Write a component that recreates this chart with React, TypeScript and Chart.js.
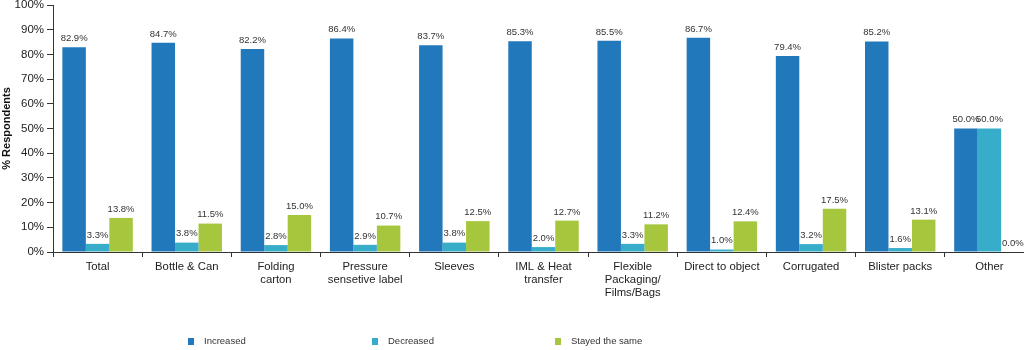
import React, { useEffect, useRef } from "react";
import { Chart, registerables } from "chart.js";

Chart.register(...registerables);

const categories: (string | string[])[] = [
  "Total",
  "Bottle & Can",
  ["Folding", "carton"],
  ["Pressure", "sensetive label"],
  "Sleeves",
  ["IML & Heat", "transfer"],
  ["Flexible", "Packaging/", "Films/Bags"],
  "Direct to object",
  "Corrugated",
  "Blister packs",
  "Other",
];

const increased = [82.9, 84.7, 82.2, 86.4, 83.7, 85.3, 85.5, 86.7, 79.4, 85.2, 50.0];
const decreased = [3.3, 3.8, 2.8, 2.9, 3.8, 2.0, 3.3, 1.0, 3.2, 1.6, 50.0];
const stayedSame = [13.8, 11.5, 15.0, 10.7, 12.5, 12.7, 11.2, 12.4, 17.5, 13.1, 0.0];

const seriesNames = ["Increased", "Decreased", "Stayed the same"];
const seriesColors = ["#2178BA", "#37ADCA", "#A6C73D"];
const yTicks = [0, 10, 20, 30, 40, 50, 60, 70, 80, 90, 100];

const FONT = "'Liberation Sans', Arial, Helvetica, sans-serif";

const dataLabelPlugin = {
  id: "dataLabels",
  afterDatasetsDraw(chart: any) {
    const ctx = chart.ctx;
    ctx.save();
    ctx.font = `9.5px ${FONT}`;
    ctx.fillStyle = "#333333";
    ctx.textAlign = "center";
    ctx.textBaseline = "bottom";
    chart.data.datasets.forEach((ds: any, di: number) => {
      const meta = chart.getDatasetMeta(di);
      meta.data.forEach((bar: any, i: number) => {
        const v = ds.data[i] as number;
        ctx.fillText(v.toFixed(1) + "%", bar.x, bar.y - 4);
      });
    });
    ctx.restore();
  },
};

const legendPlugin = {
  id: "customLegend",
  afterDraw(chart: any) {
    const ctx = chart.ctx;
    const starts = [188, 372, 555];
    const y = 341;
    ctx.save();
    ctx.font = `9.5px ${FONT}`;
    ctx.textBaseline = "middle";
    ctx.textAlign = "left";
    chart.data.datasets.forEach((ds: any, i: number) => {
      const x = starts[i];
      ctx.fillStyle = ds.backgroundColor;
      ctx.fillRect(x, y - 3, 6, 7);
      ctx.fillStyle = "#333333";
      ctx.fillText(ds.label, x + 16, y + 0.5);
    });
    ctx.restore();
  },
};

export default function App() {
  const canvasRef = useRef<HTMLCanvasElement | null>(null);

  useEffect(() => {
    if (!canvasRef.current) return;
    const datasets = [increased, decreased, stayedSame].map((d, i) => ({
      label: seriesNames[i],
      data: d,
      backgroundColor: seriesColors[i],
      borderWidth: 0,
      categoryPercentage: 0.79,
      barPercentage: 1.0,
    }));
    const chart = new Chart(canvasRef.current, {
      type: "bar",
      data: { labels: categories, datasets },
      options: {
        animation: false,
        responsive: false,
        maintainAspectRatio: false,
        layout: { padding: { top: 5, right: 6, left: 0, bottom: 0 } },
        plugins: {
          legend: { display: false },
          tooltip: { enabled: false },
        },
        scales: {
          x: {
            grid: {
              offset: true,
              drawOnChartArea: false,
              drawTicks: true,
              tickLength: 5,
              color: "#333333",
            },
            border: { display: true, color: "#333333", width: 1 },
            ticks: {
              color: "#222222",
              font: { family: FONT, size: 11.3, lineHeight: 1.15 },
              maxRotation: 0,
              autoSkip: false,
              padding: 3,
            },
            afterFit: (scale: any) => {
              scale.height = 98;
              scale.paddingLeft = 0;
              scale.paddingRight = 0;
            },
          },
          y: {
            min: 0,
            max: 100,
            afterBuildTicks: (scale: any) => {
              scale.ticks = yTicks.map((v) => ({ value: v }));
            },
            grid: {
              drawOnChartArea: false,
              drawTicks: true,
              tickLength: 6,
              color: "#333333",
            },
            border: { display: true, color: "#333333", width: 1 },
            ticks: {
              color: "#222222",
              font: { family: FONT, size: 11.5 },
              padding: 3,
              callback: (v: any) => v + "%",
            },
            title: {
              display: true,
              text: "% Respondents",
              color: "#111111",
              font: { family: FONT, size: 11, weight: "bold" },
              padding: { top: 0, bottom: 2 },
            },
            afterFit: (scale: any) => {
              scale.width = 53;
              scale.paddingTop = 0;
              scale.paddingBottom = 0;
            },
          },
        },
      },
      plugins: [dataLabelPlugin, legendPlugin],
    } as any);
    return () => chart.destroy();
  }, []);

  return (
    <div style={{ position: "fixed", left: 0, top: 0, width: 1024, height: 350, overflow: "hidden", background: "#ffffff" }}>
      <canvas ref={canvasRef} width={1040} height={350} style={{ width: 1040, height: 350, display: "block" }} />
    </div>
  );
}
